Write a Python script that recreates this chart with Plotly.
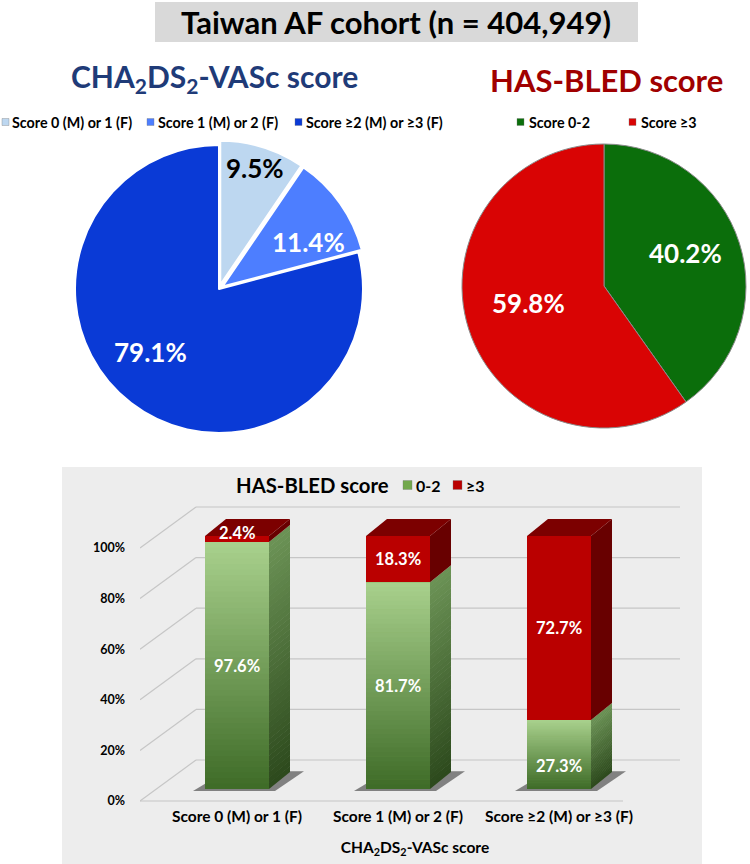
import plotly.graph_objects as go

# ---------------- data ----------------
cha_labels = ["Score 0 (M) or 1 (F)", "Score 1 (M) or 2 (F)", "Score ≥2 (M) or ≥3 (F)"]
cha_values = [9.5, 11.4, 79.1]
has_labels = ["Score 0-2", "Score ≥3"]
has_values = [40.2, 59.8]
bar_categories = ["Score 0 (M) or 1 (F)", "Score 1 (M) or 2 (F)", "Score ≥2 (M) or ≥3 (F)"]
bar_series = ["0-2", "≥3"]
bar_low = [97.6, 81.7, 27.3]    # HAS-BLED 0-2
bar_high = [2.4, 18.3, 72.7]    # HAS-BLED >=3
y_ticks = [0, 20, 40, 60, 80, 100]

# ---------------- geometry helpers ----------------
W, H = 750, 864
FONT = "Lato"


def px(x):
    return x / W


def py(y):
    return 1 - y / H


BAR_X0_PX, BAR_STEP_PX = 237, 161
BASE_PY, PPP = 789, 2.53


def xu(p):
    return (p - BAR_X0_PX) / BAR_STEP_PX


def yu(p):
    return (BASE_PY - p) / PPP


FRONT = yu(801)   # front wall offset (value units)
BACK = yu(760)    # back wall offset
BW = 64 / BAR_STEP_PX
DX = 21 / BAR_STEP_PX
DY = 17 / PPP
XR = [xu(140), xu(690)]
YR = [yu(805), yu(470)]

CHA_COLORS = ["#BDD7F0", "#4D7EFF", "#0A3AD6"]
HAS_COLORS = ["#0B6E0B", "#D90404"]
GREEN = "#72A84C"
RED = "#BA0000"
RED_SIDE = "#680000"
RED_TOP = "#7C0000"
GREEN_FRONT_GRAD = ("#3E6B27", "#A9D18D")   # bottom, top
GREEN_SIDE_GRAD = ("#2C491C", "#6C9356")
N_BANDS = 45


def mix(c0, c1, t):
    a = [int(c0[k:k + 2], 16) for k in (1, 3, 5)]
    b = [int(c1[k:k + 2], 16) for k in (1, 3, 5)]
    return "#" + "".join(f"{round(a[j] + (b[j] - a[j]) * t):02x}" for j in range(3))


fig = go.Figure()

# ---------------- pies ----------------
r1 = 144 * 1.03
fig.add_trace(go.Pie(
    labels=cha_labels, values=cha_values, sort=False, direction="clockwise", rotation=0,
    marker=dict(colors=CHA_COLORS, line=dict(color="white", width=2)),
    pull=[0.03, 0.03, 0], textinfo="none", textposition="none", hoverinfo="label+percent",
    domain=dict(x=[px(219 - r1), px(219 + r1)], y=[py(289 + r1), py(289 - r1)]),
    showlegend=False,
))
r2 = 142
fig.add_trace(go.Pie(
    labels=has_labels, values=has_values, sort=False, direction="clockwise", rotation=0,
    marker=dict(colors=HAS_COLORS, line=dict(color="#8a8a8a", width=1)),
    textinfo="none", textposition="none", hoverinfo="label+percent",
    domain=dict(x=[px(604 - r2), px(604 + r2)], y=[py(286 + r2), py(286 - r2)]),
    showlegend=False,
))

# ---------------- bars ----------------
xs = list(range(len(bar_categories)))
fig.add_trace(go.Bar(x=xs, y=bar_low, name=bar_series[0], width=BW, showlegend=False,
                     marker=dict(color=GREEN, line=dict(width=0))))
fig.add_trace(go.Bar(x=xs, y=bar_high, name=bar_series[1], width=BW, showlegend=False,
                     marker=dict(color=RED, line=dict(width=0))))

shapes = []
# panel background
shapes.append(dict(type="rect", xref="paper", yref="paper", x0=px(62), x1=px(702), y0=py(864), y1=py(467),
                   fillcolor="#EDEDED", line=dict(width=0), layer="below"))
# title box
shapes.append(dict(type="rect", xref="paper", yref="paper", x0=px(155), x1=px(638), y0=py(42), y1=py(2),
                   fillcolor="#D9D9D9", line=dict(width=0), layer="below"))
# back wall gridlines and diagonals
for v in y_ticks:
    shapes.append(dict(type="line", xref="x", yref="y", x0=xu(196), x1=xu(680), y0=v + BACK, y1=v + BACK,
                       line=dict(color="#C6C6C6", width=1.2), layer="below"))
    shapes.append(dict(type="line", xref="x", yref="y", x0=xu(140), x1=xu(196), y0=v + FRONT, y1=v + BACK,
                       line=dict(color="#C6C6C6", width=1.2), layer="below"))
shapes.append(dict(type="line", xref="x", yref="y", x0=xu(140), x1=xu(623), y0=FRONT, y1=FRONT,
                   line=dict(color="#C6C6C6", width=1.2), layer="below"))

for i, (lo, hi) in enumerate(zip(bar_low, bar_high)):
    xl, xr = i - BW / 2, i + BW / 2
    top = lo + hi
    # floor shadow
    shapes.append(dict(type="path", xref="x", yref="y", layer="below",
                       path=f"M{xl - 12 / BAR_STEP_PX},{-0.8} L{xr + 6 / BAR_STEP_PX},{-0.8} "
                            f"L{xr + DX + 14 / BAR_STEP_PX},{DY * 1.05} L{xl + DX},{DY * 1.05} Z",
                       fillcolor="rgba(40,40,40,0.55)", line=dict(width=0)))
    # shaded bands on the green segment (front and side) for the gradient look
    for k in range(N_BANDS):
        ya = lo * k / N_BANDS
        yb = min(lo, lo * (k + 1) / N_BANDS + 0.25)
        t = (k + 0.5) / N_BANDS
        shapes.append(dict(type="rect", xref="x", yref="y", layer="above", x0=xl, x1=xr, y0=ya, y1=yb,
                           fillcolor=mix(*GREEN_FRONT_GRAD, t), line=dict(width=0)))
        shapes.append(dict(type="path", xref="x", yref="y", layer="above",
                           path=f"M{xr},{ya} L{xr + DX},{ya + DY} L{xr + DX},{yb + DY} L{xr},{yb} Z",
                           fillcolor=mix(*GREEN_SIDE_GRAD, t), line=dict(width=0)))
    # red side face
    shapes.append(dict(type="path", xref="x", yref="y", layer="above",
                       path=f"M{xr},{lo} L{xr + DX},{lo + DY} L{xr + DX},{top + DY} L{xr},{top} Z",
                       fillcolor=RED_SIDE, line=dict(width=0)))
    # top face
    shapes.append(dict(type="path", xref="x", yref="y", layer="above",
                       path=f"M{xl},{top} L{xl + DX},{top + DY} L{xr + DX},{top + DY} L{xr},{top} Z",
                       fillcolor=RED_TOP, line=dict(width=0)))

annotations = []


def ann(text, x, y, size, color="black", xref="paper", yref="paper", xanchor="center", **kw):
    annotations.append(dict(text=text, x=x, y=y, xref=xref, yref=yref, showarrow=False,
                            font=dict(family=FONT, size=size, color=color, weight="bold"),
                            xanchor=xanchor, yanchor="middle", **kw))


def legend_item(icon_x, y, size, color, text, text_x, font_size):
    shapes.append(dict(type="rect", xref="paper", yref="paper",
                       x0=px(icon_x), x1=px(icon_x + size), y0=py(y + size / 2), y1=py(y - size / 2),
                       fillcolor=color, line=dict(color="rgba(120,120,120,0.6)", width=0.6)))
    ann(text, px(text_x), py(y), font_size, xanchor="left")


ann("Taiwan AF cohort (n = 404,949)", px(396.5), py(22), 31)
ann("CHA<sub>2</sub>DS<sub>2</sub>-VASc score", px(214), py(78), 30, "#1F3B78")
ann("HAS-BLED score", px(606), py(80), 31, "#A00000")

# pie legends
for (ix, tx), c, t in zip([(2, 10), (147, 156), (295, 304)], CHA_COLORS, cha_labels):
    legend_item(ix, 122, 7, c, t, tx, 14.3)
for (ix, tx), c, t in zip([(517, 527), (629, 639)], HAS_COLORS, has_labels):
    legend_item(ix, 122, 7, c, t, tx, 14.3)

# bar legend
ann("HAS-BLED score", px(234), py(485), 20.3, xanchor="left")
for (ix, tx), c, t in zip([(403, 414), (453, 464)], [GREEN, RED], bar_series):
    legend_item(ix, 485, 9, c, t, tx, 16)

# pie labels
pie1_pos = [(255, 168), (308, 242), (150, 352)]
pie1_col = ["black", "white", "white"]
for v, (x, y), c in zip(cha_values, pie1_pos, pie1_col):
    ann(f"{v}%", px(x), py(y), 26, c)
pie2_pos = [(685, 253), (528, 303)]
for v, (x, y) in zip(has_values, pie2_pos):
    ann(f"{v}%", px(x), py(y), 26, "white")

# bar labels
low_shift = [0, 0, -12]
high_shift = [6, 0, 0]
for i, (lo, hi) in enumerate(zip(bar_low, bar_high)):
    ann(f"{lo}%", i, lo / 2, 16.5, "white", xref="x", yref="y", yshift=low_shift[i])
    ann(f"{hi}%", i, lo + hi / 2, 16.5, "white", xref="x", yref="y", yshift=high_shift[i])

fig.update_layout(
    width=W, height=H, autosize=False,
    margin=dict(l=0, r=0, t=0, b=0, autoexpand=False),
    paper_bgcolor="white", plot_bgcolor="rgba(0,0,0,0)",
    font=dict(family=FONT, color="black"),
    barmode="stack", bargap=0, showlegend=False,
    shapes=shapes, annotations=annotations,
    xaxis=dict(domain=[px(140), px(690)], range=XR, tickmode="array", tickvals=xs, ticktext=bar_categories,
               showgrid=False, zeroline=False, showline=False, ticks="", automargin=False,
               tickfont=dict(family=FONT, size=15.5, color="black", weight="bold"),
               title=dict(text="CHA<sub>2</sub>DS<sub>2</sub>-VASc score", standoff=18,
                          font=dict(family=FONT, size=15.5, color="black", weight="bold")),
               fixedrange=True),
    yaxis=dict(domain=[py(805), py(470)], range=YR, showgrid=False, zeroline=False,
               showticklabels=False, showline=False, fixedrange=True, automargin=False),
    yaxis2=dict(overlaying="y", domain=[py(805), py(470)], range=[YR[0] - FRONT, YR[1] - FRONT],
                tickmode="array", tickvals=y_ticks, ticktext=[f"{v}%" for v in y_ticks],
                showgrid=False, zeroline=False, showline=False, ticks="", ticklabelstandoff=14,
                automargin=False, fixedrange=True,
                tickfont=dict(family=FONT, size=12.5, color="black", weight="bold"), anchor="x", side="left"),
)

# invisible trace on yaxis2 so the front-wall tick labels render
fig.add_trace(go.Scatter(x=[0], y=[0], yaxis="y2", mode="markers", marker=dict(opacity=0),
                         showlegend=False, hoverinfo="skip"))

fig.write_html("out.html", config={"displayModeBar": False},
               post_script="document.body.style.margin='0';document.body.style.overflow='hidden';")
